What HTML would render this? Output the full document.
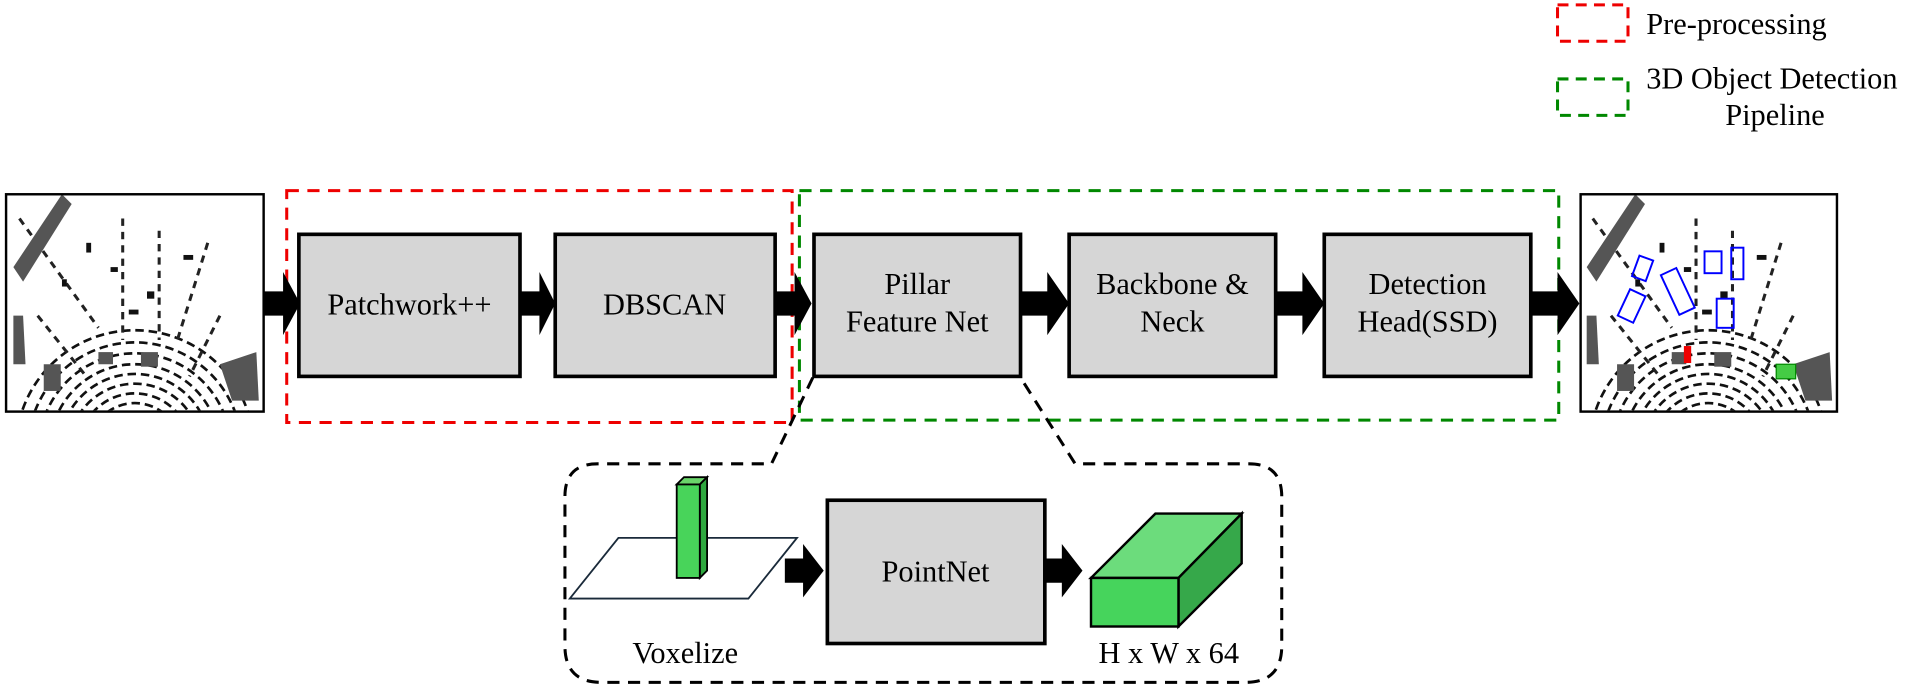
<!DOCTYPE html>
<html><head><meta charset="utf-8"><style>
html,body{margin:0;padding:0;background:#fff;overflow:hidden;}
svg{display:block;}
svg text{font-family:"Liberation Serif",serif;fill:#000;}
</style></head><body>
<svg width="1905" height="686" viewBox="0 0 1568 565" preserveAspectRatio="none" xmlns="http://www.w3.org/2000/svg">
<defs>
<clipPath id="c1"><rect x="6" y="161" width="210" height="177"/></clipPath>
<clipPath id="c2"><rect x="1302" y="161" width="209" height="177"/></clipPath>
<g id="cloud">
  <g fill="none" stroke="#111" stroke-width="2.2" stroke-dasharray="7 4">
    <circle cx="0" cy="210" r="30"/><circle cx="0" cy="210" r="38"/><circle cx="0" cy="210" r="46"/>
    <circle cx="0" cy="210" r="54"/><circle cx="0" cy="210" r="62"/><circle cx="0" cy="210" r="70"/>
    <circle cx="0" cy="210" r="79"/><circle cx="0" cy="210" r="88"/><circle cx="0" cy="210" r="98"/>
  </g>
  <g stroke="#222" stroke-width="2.5" stroke-dasharray="6 5" fill="none">
    <path d="M-95 20 L-30 110"/><path d="M60 40 L35 120"/><path d="M-10 20 L-10 120"/><path d="M20 30 L20 120"/>
    <path d="M-80 100 L-40 150"/><path d="M70 100 L45 150"/>
  </g>
  <g fill="#555">
    <path d="M-100 60 L-60 0 L-52 8 L-92 72 Z"/>
    <path d="M70 140 L100 130 L102 170 L80 170 Z"/>
    <path d="M-100 100 L-92 100 L-90 140 L-100 140 Z"/>
    <rect x="-75" y="140" width="14" height="22"/>
    <rect x="-30" y="130" width="12" height="10"/>
    <rect x="5" y="130" width="14" height="12"/>
  </g>
  <g fill="#111">
    <rect x="-40" y="40" width="4" height="8"/><rect x="-20" y="60" width="6" height="4"/><rect x="40" y="50" width="8" height="4"/>
    <rect x="-60" y="70" width="4" height="6"/><rect x="10" y="80" width="6" height="6"/><rect x="-5" y="95" width="8" height="4"/>
  </g>
</g>
</defs>

<!-- legend -->
<rect x="1282" y="4" width="58" height="30" fill="none" stroke="#e00" stroke-width="2.5" stroke-dasharray="9 6"/>
<text x="1355" y="28" font-size="25">Pre-processing</text>
<rect x="1282" y="65" width="58" height="30" fill="none" stroke="#080" stroke-width="2.5" stroke-dasharray="9 6"/>
<text x="1355" y="73" font-size="25">3D Object Detection</text>
<text x="1461" y="103" font-size="25" text-anchor="middle">Pipeline</text>

<!-- input cloud -->
<rect x="5" y="160" width="212" height="179" fill="#fff" stroke="#000" stroke-width="2"/>
<g clip-path="url(#c1)"><use href="#cloud" x="111" y="160"/></g>
<!-- output cloud -->
<rect x="1301" y="160" width="211" height="179" fill="#fff" stroke="#000" stroke-width="2"/>
<g clip-path="url(#c2)"><use href="#cloud" x="1406" y="160"/>
  <g fill="none" stroke="#00f" stroke-width="1.6">
    <rect x="1346" y="212" width="12" height="18" transform="rotate(20 1352 221)"/>
    <rect x="1336" y="240" width="14" height="24" transform="rotate(25 1343 252)"/>
    <rect x="1374" y="222" width="14" height="36" transform="rotate(-25 1381 240)"/>
    <rect x="1403" y="207" width="14" height="18"/>
    <rect x="1425" y="204" width="10" height="26"/>
    <rect x="1413" y="246" width="14" height="24"/>
  </g>
  <rect x="1386" y="285" width="6" height="14" fill="#e00"/>
  <rect x="1462" y="300" width="16" height="12" fill="#4c4" stroke="#080"/>
</g>

<!-- dashed groups -->
<rect x="236" y="157" width="416" height="191" fill="none" stroke="#e00" stroke-width="2.5" stroke-dasharray="10 7"/>
<rect x="658" y="157" width="625" height="189" fill="none" stroke="#080" stroke-width="2.5" stroke-dasharray="10 7"/>

<!-- boxes -->
<g fill="#d6d6d6" stroke="#000" stroke-width="3">
<rect x="246" y="193" width="182" height="117"/>
<rect x="457" y="193" width="181" height="117"/>
<rect x="670" y="193" width="170" height="117"/>
<rect x="880" y="193" width="170" height="117"/>
<rect x="1090" y="193" width="170" height="117"/>
<rect x="681" y="412" width="179" height="118"/>
</g>
<g font-size="25" text-anchor="middle">
<text x="337" y="259">Patchwork++</text>
<text x="547" y="259">DBSCAN</text>
<text x="755" y="242">Pillar</text><text x="755" y="273">Feature Net</text>
<text x="965" y="242">Backbone &amp;</text><text x="965" y="273">Neck</text>
<text x="1175" y="242">Detection</text><text x="1175" y="273">Head(SSD)</text>
<text x="770" y="479">PointNet</text>
<text x="564" y="546">Voxelize</text>
<text x="962" y="546">H x W x 64</text>
</g>

<!-- arrows -->
<g fill="#000">
<path d="M217 240 h16 v-16 l14 26 l-14 26 v-16 h-16 z"/>
<path d="M428 240 h16 v-16 l13 26 l-13 26 v-16 h-16 z"/>
<path d="M638 240 h16 v-16 l14 26 l-14 26 v-16 h-16 z"/>
<path d="M840 240 h22 v-16 l18 26 l-18 26 v-16 h-22 z"/>
<path d="M1050 240 h22 v-16 l18 26 l-18 26 v-16 h-22 z"/>
<path d="M1260 240 h22 v-16 l18 26 l-18 26 v-16 h-22 z"/>
<path d="M646 460 h15 v-12 l17 22 l-17 22 v-12 h-15 z"/>
<path d="M860 460 h14 v-12 l17 22 l-17 22 v-12 h-14 z"/>
</g>

<!-- zoom outline -->
<path d="M669 311 L635 382 H492 Q465 382 465 409 V532 Q465 562 495 562 H1025 Q1055 562 1055 532 V409 Q1055 382 1028 382 H885 L840 311" fill="none" stroke="#000" stroke-width="2.5" stroke-dasharray="10 7"/>

<!-- voxelize plane + pillar -->
<polygon points="509,443 656,443 616,493 469,493" fill="#fff" stroke="#1a2a3a" stroke-width="1.5"/>
<polygon points="557,399 563,393 582,393 576,399" fill="#6ad46a" stroke="#000" stroke-width="1.5"/>
<polygon points="576,399 582,393 582,470 576,476" fill="#2fa83f" stroke="#000" stroke-width="1.5"/>
<rect x="557" y="399" width="19" height="77" fill="#48d45a" stroke="#000" stroke-width="1.5"/>

<!-- feature cube -->
<polygon points="898,476 951,423 1022,423 970,476" fill="#6cdc7c" stroke="#000" stroke-width="2"/>
<polygon points="970,476 1022,423 1022,464 970,516" fill="#36a84a" stroke="#000" stroke-width="2"/>
<rect x="898" y="476" width="72" height="40" fill="#46d45c" stroke="#000" stroke-width="2"/>
</svg>
</body></html>
